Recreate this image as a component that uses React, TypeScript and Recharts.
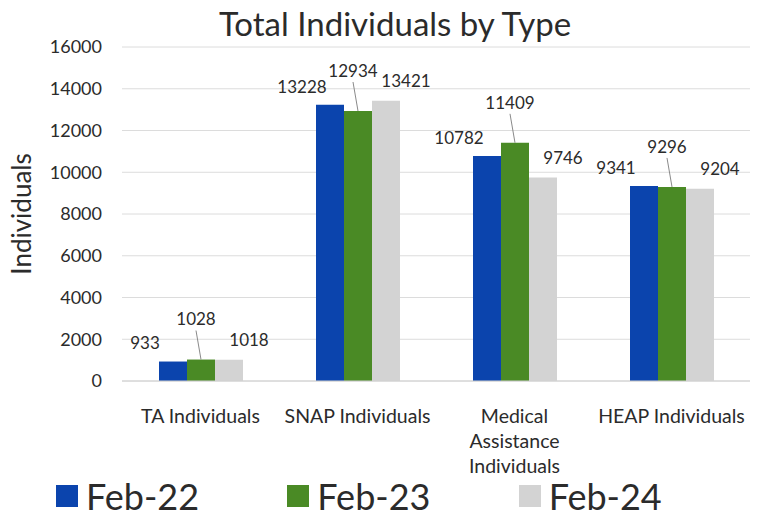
import { BarChart, Bar, XAxis, YAxis, CartesianGrid, Legend, LabelList } from 'recharts';

const categories = ['TA Individuals', 'SNAP Individuals', 'Medical Assistance Individuals', 'HEAP Individuals'];
const feb22 = [933, 13228, 10782, 9341];
const feb23 = [1028, 12934, 11409, 9296];
const feb24 = [1018, 13421, 9746, 9204];
const yTicks = [0, 2000, 4000, 6000, 8000, 10000, 12000, 14000, 16000];
const seriesNames = ['Feb-22', 'Feb-23', 'Feb-24'];
const colors = ['#0b44ad', '#4a8a25', '#d3d3d3'];

const data = categories.map((name, i) => ({
    name,
    feb22: feb22[i],
    feb23: feb23[i],
    feb24: feb24[i],
}));

const FONT = 'Lato, "Open Sans", sans-serif';
const TEXT = '#2b2b2b';

function XTick(props: any) {
    const { x, y, payload } = props;
    const words = String(payload.value).split(' ');
    const lines = words.length > 2 ? words : [payload.value];
    return (
        <g>
            {lines.map((line: string, i: number) => (
                <text key={i} x={x} y={y + 27 + i * 25} dy="0.35em" textAnchor="middle"
                    fontSize={19.5} fill={TEXT} fontFamily={FONT}>
                    {line}
                </text>
            ))}
        </g>
    );
}

const makeLabel = (dx: number, up: number, leader: boolean) => (props: any) => {
    const { x, y, width, value } = props;
    const cx = Number(x) + Number(width) / 2;
    const ty = Number(y) - up;
    return (
        <g>
            {leader && <line x1={cx + dx} y1={ty + 11} x2={cx} y2={Number(y)} stroke="#8a8a8a" strokeWidth={1} />}
            <text x={cx + dx} y={ty} dy="0.35em" textAnchor="middle" fontSize={17} fill={TEXT} fontFamily={FONT}>
                {value}
            </text>
        </g>
    );
};

function LegendBox() {
    return (
        <div style={{ display: 'flex', height: 48, paddingLeft: 56, alignItems: 'center', fontFamily: FONT }}>
            {seriesNames.map((n, i) => (
                <div key={n} style={{ display: 'flex', alignItems: 'center', width: 237 }}>
                    <span style={{ width: 22, height: 22, background: colors[i], display: 'inline-block', marginRight: 8 }} />
                    <span style={{ fontSize: 36, color: TEXT }}>{n}</span>
                </div>
            ))}
        </div>
    );
}

function YLabel() {
    return (
        <text x={22} y={214} transform="rotate(-90 22 214)" textAnchor="middle" dy="0.35em"
            fontSize={26} fill={TEXT} fontFamily={FONT}>
            Individuals
        </text>
    );
}

export default function App() {
    return (
        <div style={{ position: 'absolute', left: 0, top: 0, width: 762, height: 520, background: '#fff' }}>
            <div style={{
                position: 'absolute', top: 3, left: 0, width: 790, textAlign: 'center',
                fontSize: 33, color: TEXT, fontFamily: FONT,
            }}>
                Total Individuals by Type
            </div>
            <BarChart width={762} height={520} data={data} barGap={0}
                margin={{ top: 47, right: 12, bottom: 0, left: 0 }}>
                <CartesianGrid vertical={false} stroke="#dcdcdc" />
                <XAxis dataKey="name" height={91} tick={<XTick />} tickLine={false} axisLine={{ stroke: '#d0d0d0' }} interval={0} />
                <YAxis width={122} domain={[0, 16000]} ticks={yTicks} tickLine={false} axisLine={false}
                    tickSize={0} tickMargin={20}
                    tick={{ fontSize: 18, fill: TEXT, fontFamily: FONT }}
                    label={<YLabel />} />
                <Legend verticalAlign="bottom" height={48} content={<LegendBox />} />
                <Bar dataKey="feb22" name="Feb-22" fill={colors[0]} barSize={28} isAnimationActive={false}>
                    <LabelList dataKey="feb22" content={makeLabel(-28, 18, false)} />
                </Bar>
                <Bar dataKey="feb23" name="Feb-23" fill={colors[1]} barSize={28} isAnimationActive={false}>
                    <LabelList dataKey="feb23" content={makeLabel(-5, 40, true)} />
                </Bar>
                <Bar dataKey="feb24" name="Feb-24" fill={colors[2]} barSize={28} isAnimationActive={false}>
                    <LabelList dataKey="feb24" content={makeLabel(20, 20, false)} />
                </Bar>
            </BarChart>
        </div>
    );
}
